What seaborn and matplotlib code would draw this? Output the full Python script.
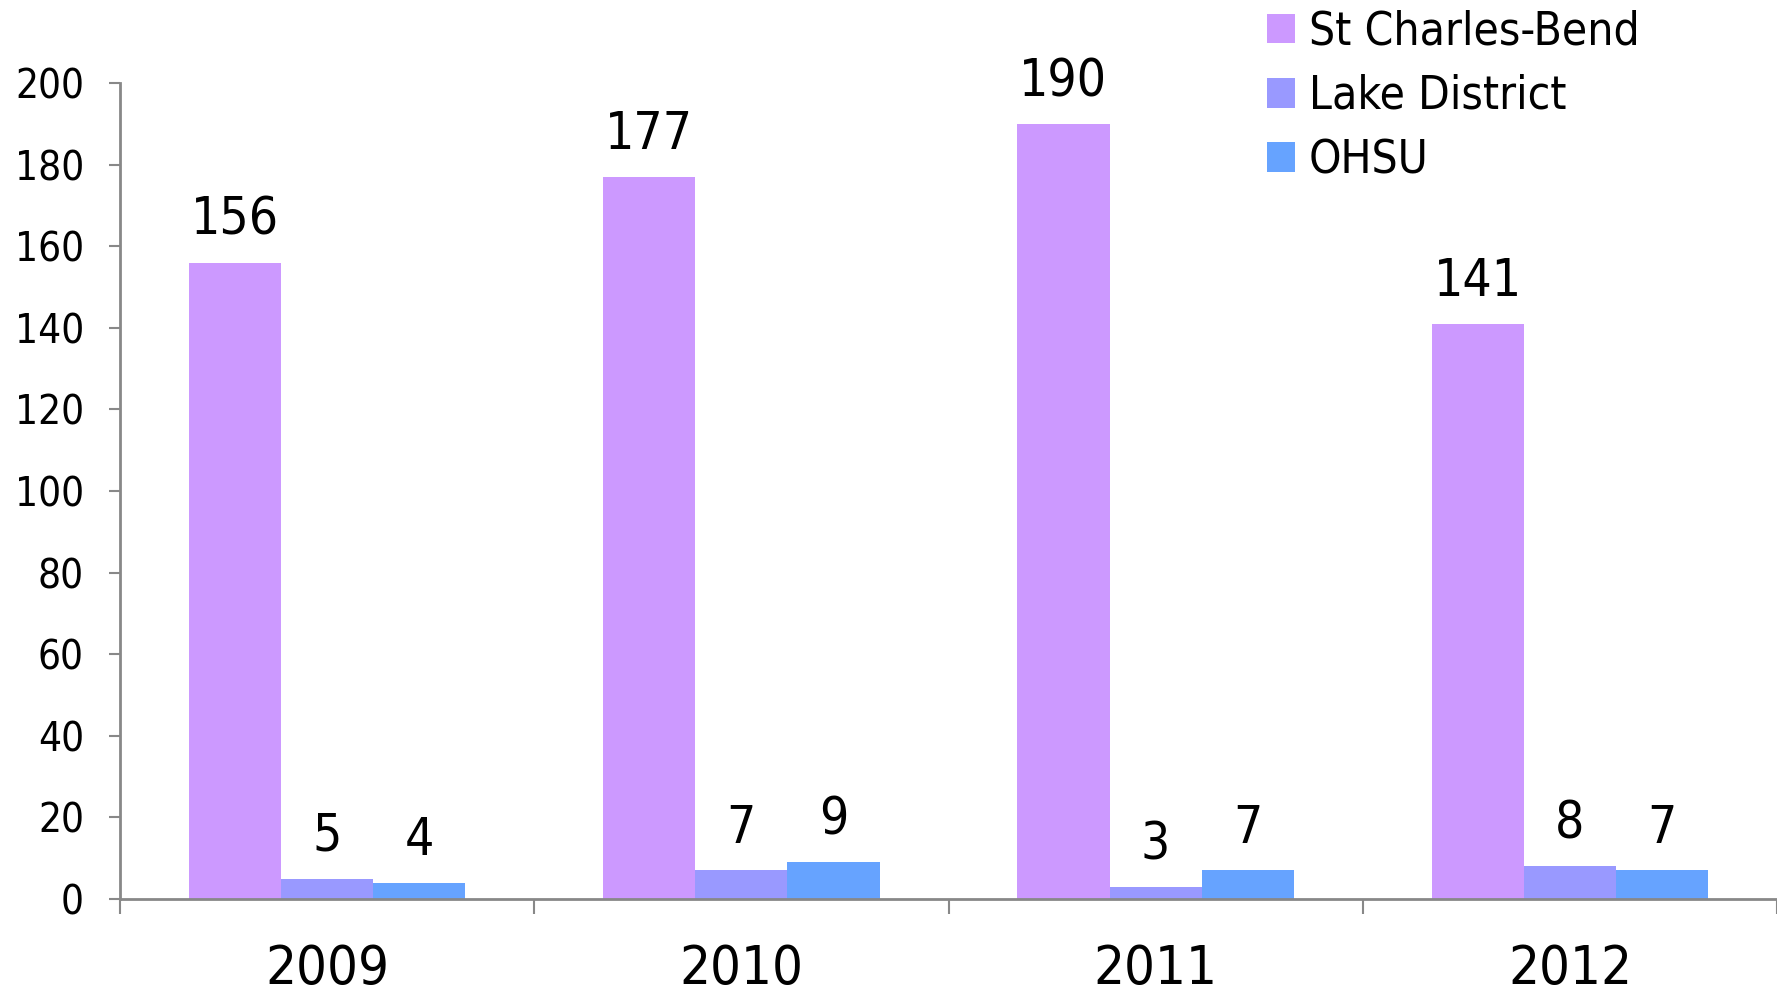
import matplotlib
matplotlib.use("Agg")
import matplotlib.pyplot as plt
import seaborn as sns
import pandas as pd
import numpy as np

# data
years = ["2009", "2010", "2011", "2012"]
hospitals = ["St Charles-Bend", "Lake District", "OHSU"]
st_charles = [156, 177, 190, 141]
lake_district = [5, 7, 3, 8]
ohsu = [4, 9, 7, 7]
colors = ["#CC99FF", "#9999FF", "#66A3FF"]

sns.set_style("white")
plt.rcParams['font.family'] = ['DejaVu Sans']
plt.rcParams['font.stretch'] = 'condensed'
plt.rcParams['text.color'] = 'black'
plt.rcParams['xtick.labelcolor'] = 'black'
plt.rcParams['ytick.labelcolor'] = 'black'

df = pd.DataFrame({
    "year": years * 3,
    "hospital": np.repeat(hospitals, len(years)),
    "count": st_charles + lake_district + ohsu,
})

fig = plt.figure(figsize=(17.77, 9.96), dpi=100)
ax = fig.add_axes([120 / 1777, 97 / 996, 1 - 120 / 1777, (899 - 83) / 996])

sns.barplot(data=df, x="year", y="count", hue="hospital", order=years,
            hue_order=hospitals, palette=colors, saturation=1, width=0.668,
            ax=ax, errorbar=None, linewidth=0)

for cont in ax.containers:
    for bar in cont:
        h = bar.get_height()
        ax.annotate(f"{int(h)}", (bar.get_x() + bar.get_width() / 2, h),
                    xytext=(0, 30), textcoords="offset points",
                    ha="center", va="center", fontsize=37, color="black")

ax.set_ylim(0, 200)
ax.set_xlim(-0.5, 3.5)
ax.set_yticks(range(0, 201, 20))
ax.set_xlabel("")
ax.set_ylabel("")

for s in ["top", "right"]:
    ax.spines[s].set_visible(False)
for s in ["left", "bottom"]:
    ax.spines[s].set_color("#888888")
    ax.spines[s].set_linewidth(2)

ax.tick_params(axis="y", which="major", length=8, width=1.5, color="#888888",
               labelsize=29, pad=18, left=True, labelcolor="black")
ax.tick_params(axis="x", which="major", length=0, labelsize=39, pad=32,
               labelcolor="black")
ax.set_xticks(np.arange(-0.5, 3.6, 1), minor=True)
ax.tick_params(axis="x", which="minor", length=11, width=1.5, color="#888888",
               bottom=True)

leg = ax.legend(loc="upper left", bbox_to_anchor=(1262 / 1777, 0.995),
                bbox_transform=fig.transFigure, frameon=False, fontsize=33,
                handlelength=0.62, handleheight=0.62, handletextpad=0.3,
                labelspacing=0.42, borderpad=0.1, borderaxespad=0)
for t in leg.get_texts():
    t.set_color("black")

fig.savefig("out.png", dpi=100)
